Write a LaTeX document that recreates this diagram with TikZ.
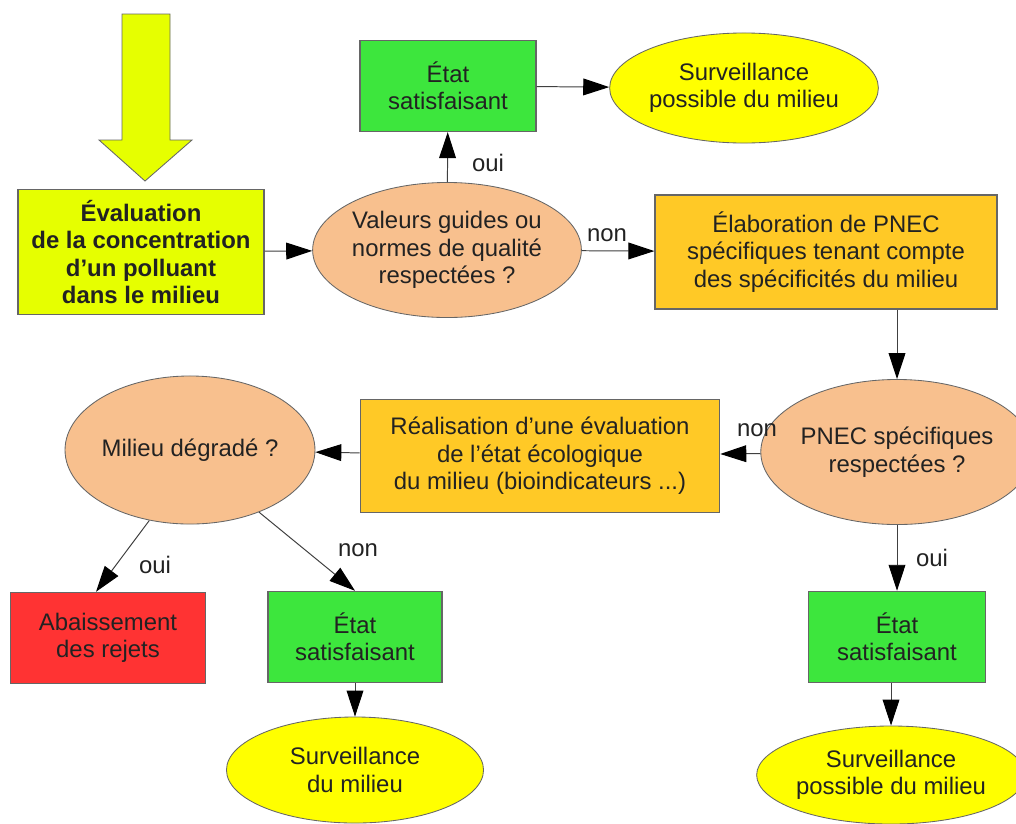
\documentclass[tikz,border=0pt]{standalone}
\usepackage{fontspec}
\setmainfont{Liberation Sans}
\usepackage{xcolor}
\usetikzlibrary{shapes.geometric, arrows.meta, positioning}

\definecolor{lemon}{HTML}{E6FF00}
\definecolor{okgreen}{HTML}{3DE63D}
\definecolor{peach}{HTML}{F8C08E}
\definecolor{sunyellow}{HTML}{FFFF00}
\definecolor{amber}{HTML}{FFC926}
\definecolor{alarm}{HTML}{FF3333}
\definecolor{edge}{HTML}{666666}
\definecolor{ink}{HTML}{222222}

\begin{document}
\begin{tikzpicture}[x=0.025cm, y=-0.025cm, font=\fontsize{17}{19.5}\selectfont, text=ink,
  box/.style={rectangle, draw=edge, line width=0.9pt, align=center, inner sep=2pt},
  question/.style={ellipse, draw=edge, line width=0.6pt, fill=peach, align=center, inner sep=0pt},
  watch/.style={ellipse, draw=edge, line width=0.6pt, fill=sunyellow, align=center, inner sep=0pt},
  link/.style={draw=black!75, line width=0.7pt, -{Triangle[length=0.65cm, width=0.42cm, color=black]}}]
\useasboundingbox (0,0) rectangle (1016,823);
\fill[white] (0,0) rectangle (1016,823);
% entry arrow
\draw[edge, fill=lemon, line width=0.6pt] (122,14) -- (170,14) -- (170,140) -- (192,140) -- (145,181) -- (99,140) -- (122,140) -- cycle;
\node (eval) [box, fill=lemon, font=\fontsize{17}{19.5}\selectfont\bfseries, minimum width=6.15cm, minimum height=3.125cm] at (141,252) {Évaluation\\de la concentration\\d’un polluant\\dans le milieu};
\node (valeurs) [question, minimum width=5.75cm, minimum height=3.375cm] at (447,250) {Valeurs guides ou\\normes de qualité\\respectées ?};
\node (etat1) [box, fill=okgreen, minimum width=4.4cm, minimum height=2.275cm] at (448,86) {État\\satisfaisant};
\node (surv1) [watch, minimum width=6.4cm, minimum height=2.75cm] at (744,88) {Surveillance\\possible du milieu};
\node (elab) [box, fill=amber, minimum width=8.55cm, minimum height=2.85cm] at (826,252) {Élaboration de PNEC\\spécifiques tenant compte\\des spécificités du milieu};
\node (pnec) [question, minimum width=6.1cm, minimum height=3.625cm] at (897,452) {PNEC spécifiques\\respectées ?};
\node (real) [box, fill=amber, minimum width=8.98cm, minimum height=2.83cm] at (540,456) {Réalisation d’une évaluation\\de l’état écologique\\du milieu (bioindicateurs ...)};
\node (milieu) [question, minimum width=6.125cm, minimum height=3.7cm] at (190,450) {Milieu dégradé ?};
\node (abaiss) [box, fill=alarm, minimum width=4.88cm, minimum height=2.28cm] at (108,638) {Abaissement\\des rejets};
\node (etat2) [box, fill=okgreen, minimum width=4.35cm, minimum height=2.28cm] at (355,637) {État\\satisfaisant};
\node (surv2) [watch, minimum width=6.425cm, minimum height=2.65cm] at (355,770) {Surveillance\\du milieu};
\node (etat3) [box, fill=okgreen, minimum width=4.42cm, minimum height=2.28cm] at (897,637) {État\\satisfaisant};
\node (surv3) [watch, minimum width=6.25cm, minimum height=2.45cm] at (891,775) {Surveillance\\possible du milieu};
% connectors
\draw [link] (eval) -- (valeurs);
\draw [link] (valeurs) -- (etat1);
\draw [link] (etat1) -- (surv1);
\draw [link] (valeurs) -- (elab);
\draw [link] (elab.south -| pnec.north) -- (pnec.north);
\draw [link] (pnec) -- (real);
\draw [link] (real) -- (milieu);
\draw [link] (milieu.240) -- ([xshift=-0.3cm]abaiss.north);
\draw [link] (milieu.318) -- (etat2.north);
\draw [link] (pnec) -- (etat3);
\draw [link] (etat3.south -| surv3.north) -- (surv3.north);
\draw [link] (etat2) -- (surv2);
% labels
\node (oui1) at (488,163) {oui};
\node (non1) at (607,235) {non};
\node (non2) at (757,430) {non};
\node (oui2) at (155,565) {oui};
\node (non3) at (358,550) {non};
\node (oui3) at (932,558) {oui};
\end{tikzpicture}
\end{document}
